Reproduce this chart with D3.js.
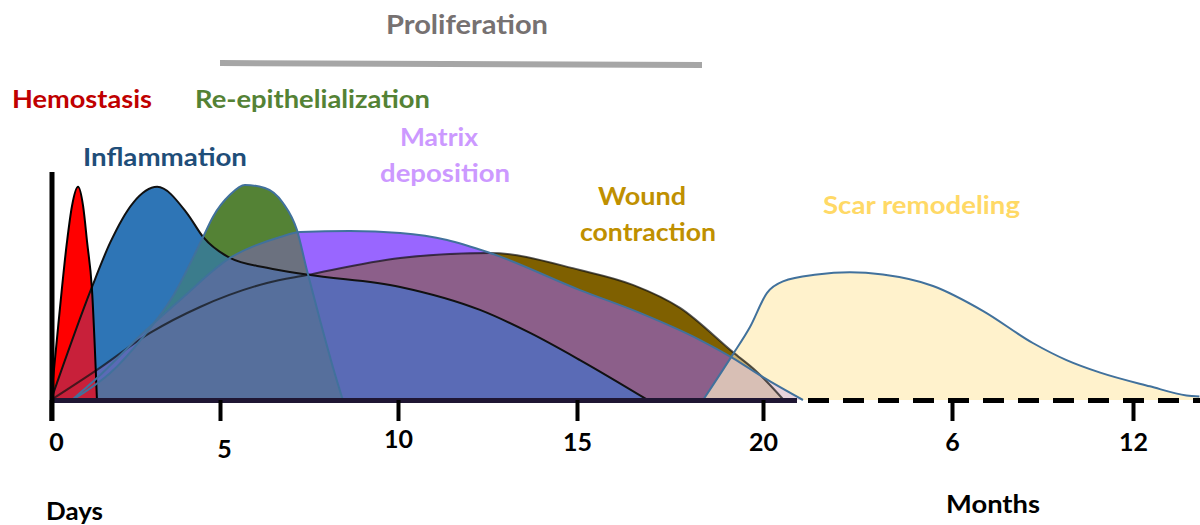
<!DOCTYPE html>
<html>
<head>
<meta charset="utf-8">
<script src="https://cdn.jsdelivr.net/npm/d3@7/dist/d3.min.js"></script>
<style>
  body { margin: 0; background: #fff; }
  svg { display: block; font-family: Lato, "Open Sans", sans-serif; font-weight: bold; }
</style>
</head>
<body>
<script>
// time in days, intensity in % of the tallest phase
const hemostasis = [[0,0],[0.21,32],[0.47,69],[0.62,85],[0.8,93.5],[0.95,85],[1.07,69],[1.21,49],[1.36,0]];
const inflammation = [[0,0],[1.21,49.5],[1.75,69],[2.43,86.5],[3.14,93.5],[4.02,82],[4.5,71.5],[5.28,62.3],
  [6.32,58],[7.44,55],[10.06,49.6],[12.29,39.5],[13.69,29.4],[15.08,17.5],[16.9,0]];
const reepithelialization = [[0.62,0],[0.95,3],[1.75,11.8],[2.72,27.6],[3.61,45.6],[4.5,71.5],[4.79,80.3],
  [5.28,90],[5.7,94.3],[6.26,93],[6.77,86.4],[7.16,74.6],[7.44,57],[7.81,35],[8.17,14.5],[8.45,0]];
const matrixDeposition = [[0.62,0],[1.36,9.6],[2.72,29.4],[3.82,43.9],[5.28,62.3],[6.69,71.5],[7.25,73.7],
  [8.65,74.1],[10.06,73.2],[11.37,70.2],[12.57,64.5],[15.08,48.2],[16.69,38.2],[18.31,26.3],[19.19,18.4],[20,10],[21.08,0]];
const woundContraction = [[0,0],[1.36,13.2],[2.93,29.4],[4.41,40.8],[6.32,51.3],[7.44,54.8],[10.06,62.3],
  [12.57,64.5],[15.08,57],[16.5,50.5],[17.77,40.4],[19.19,21],[19.84,12.3],[20.56,0]];
const scarRemodeling = [[18.39,0],[19.19,20],[19.65,32],[20.11,47],[20.54,52],[21.46,55],[40,56],[86,55],
  [156,50],[214,39],[264,25],[298,17.5],[332,12],[382,6],[419,2],[432,1.5]];

const dayTicks = [0, 5, 10, 15, 20];
const monthTicks = [6, 12];
const daysPerMonth = 30.42;

const width = 1200, height = 525;
const svg = d3.select('body').append('svg').attr('width', width).attr('height', height);

// broken, hand-drawn time axis: days up to ~3 weeks, then months
const x = d3.scaleLinear()
  .domain([...dayTicks, 22, monthTicks[0] * daysPerMonth, monthTicks[1] * daysPerMonth])
  .range([51, 220, 398, 577, 763, 837, 952, 1133]);
const y = d3.scaleLinear().domain([0, 100]).range([400, 172]);

const area = d3.area().x(d => x(d[0])).y0(y(0)).y1(d => y(d[1])).curve(d3.curveMonotoneX);
const line = d3.line().x(d => x(d[0])).y(d => y(d[1])).curve(d3.curveMonotoneX);

const shapes = {H: hemostasis, I: inflammation, R: reepithelialization, M: matrixDeposition, W: woundContraction, S: scarRemodeling};

const defs = svg.append('defs');
Object.entries(shapes).forEach(([k, d]) => {
  defs.append('clipPath').attr('id', 'clip-' + k).append('path').attr('d', area(d));
});

// paint the part where all listed phases overlap
function region(keys, color) {
  let g = svg.append('g');
  keys.slice(1).forEach(k => { g = g.append('g').attr('clip-path', `url(#clip-${k})`); });
  g.append('path').attr('d', area(shapes[keys[0]])).attr('fill', color);
}

region(['W'], '#7f6000');
region(['M'], '#9966ff');
region(['S'], '#fff2cc');
region(['R'], '#548235');
region(['I'], '#2e75b6');
region(['H'], '#ff0000');
region(['M', 'W'], '#8c5f8a');
region(['R', 'M'], '#6b717f');
region(['I', 'R'], '#3b7c8c');
region(['I', 'W'], '#5a6bb6');
region(['I', 'M'], '#5a6bb6');
region(['I', 'R', 'M'], '#566f9c');
region(['I', 'R', 'W'], '#566f9c');
region(['S', 'W'], '#c9b070');
region(['S', 'M'], '#e9d4de');
region(['S', 'W', 'M'], '#d8bfb5');
region(['H', 'I'], '#c8203a');

// outlines
const outlines = [
  [woundContraction, '#111', 0.7],
  [inflammation, '#111', 1],
  [hemostasis, '#000', 1],
  [reepithelialization, '#41719c', 1],
  [matrixDeposition, '#41719c', 1],
  [scarRemodeling, '#41719c', 1]
];
outlines.forEach(([d, c, o]) => {
  svg.append('path').attr('d', line(d)).attr('fill', 'none')
    .attr('stroke', c).attr('stroke-opacity', o).attr('stroke-width', 2);
});

// baseline: solid for days, dashed for months
svg.append('line').attr('x1', x(0)).attr('x2', 797).attr('y1', y(0) + 0.5).attr('y2', y(0) + 0.5)
  .attr('stroke', '#1f1633').attr('stroke-width', 5);
svg.append('line').attr('x1', 808).attr('x2', width).attr('y1', y(0) + 0.5).attr('y2', y(0) + 0.5)
  .attr('stroke', '#000').attr('stroke-width', 5).attr('stroke-dasharray', '21,14');

// vertical axis
svg.append('line').attr('x1', x(0) + 1).attr('x2', x(0) + 1).attr('y1', y(100)).attr('y2', y(0) + 21)
  .attr('stroke', '#000').attr('stroke-width', 5);

function styleAxis(g) {
  g.select('.domain').remove();
  g.selectAll('.tick line').attr('stroke', '#000').attr('stroke-width', 4);
  g.selectAll('.tick text').attr('fill', '#000').attr('font-size', 25)
    .attr('font-weight', 'bold').attr('font-family', 'Lato, sans-serif');
}

const dayAxis = svg.append('g').attr('transform', `translate(0,${y(0)})`)
  .call(d3.axisBottom(x).tickValues(dayTicks).tickSize(21).tickPadding(12).tickFormat(d3.format('d')))
  .call(styleAxis);
dayAxis.selectAll('.tick text').filter(d => d === 0).attr('dx', 5);
dayAxis.selectAll('.tick text').filter(d => d === 5).attr('dx', 4).attr('y', 40);
dayAxis.selectAll('.tick text').filter(d => d === 10).attr('y', 30);
svg.append('g').attr('transform', `translate(0,${y(0)})`)
  .call(d3.axisBottom(x).tickValues(monthTicks.map(m => m * daysPerMonth)).tickSize(21).tickPadding(12)
    .tickFormat((d, i) => monthTicks[i]))
  .call(styleAxis);

// proliferation bar
svg.append('line').attr('x1', 220).attr('x2', 702).attr('y1', 63).attr('y2', 65)
  .attr('stroke', '#a6a6a6').attr('stroke-width', 6);

function label(tx, ty, str, size, color, w) {
  svg.append('text').attr('x', tx).attr('y', ty).attr('font-size', size).attr('fill', color)
    .attr('textLength', w).attr('lengthAdjust', 'spacingAndGlyphs').text(str);
}
label(386, 34, 'Proliferation', 26, '#767171', 162);
label(12, 108, 'Hemostasis', 24, '#c00000', 140);
label(195, 108, 'Re-epithelialization', 24, '#548235', 235);
label(83, 166, 'Inflammation', 24, '#1f4e79', 164);
label(400, 146, 'Matrix', 24, '#cc99ff', 78);
label(380, 182, 'deposition', 24, '#cc99ff', 130);
label(598, 205, 'Wound', 24, '#bf9000', 88);
label(580, 241, 'contraction', 24, '#bf9000', 136);
label(823, 214, 'Scar remodeling', 24, '#ffd966', 197);
label(46, 520, 'Days', 24, '#000', 57);
label(946, 513, 'Months', 24, '#000', 94);
</script>
</body>
</html>
